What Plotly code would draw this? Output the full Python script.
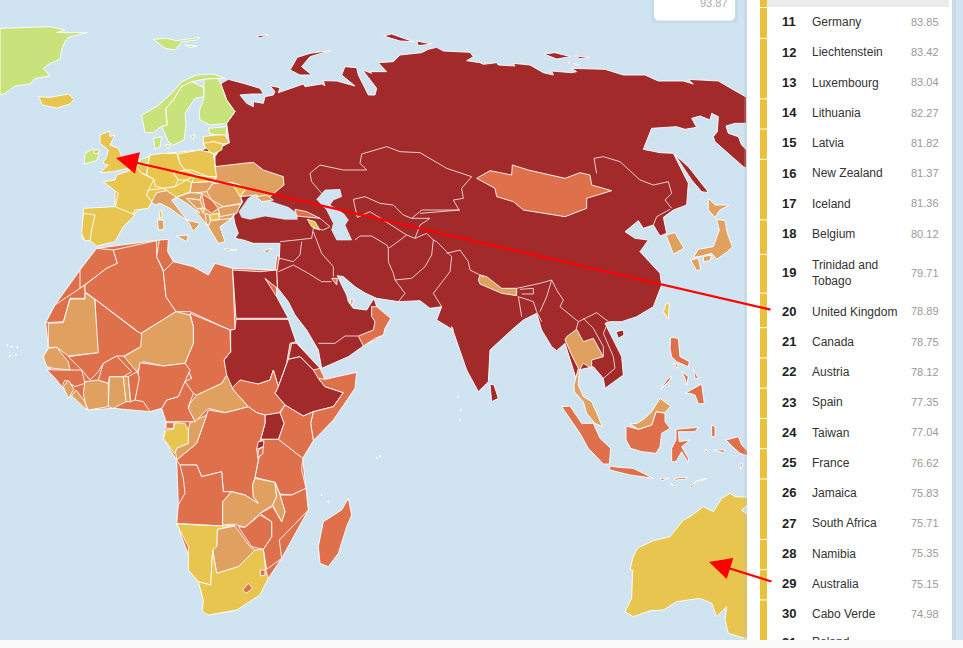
import plotly.graph_objects as go

# Ranking table
ranks = list(range(11, 32))
names = ['Germany', 'Liechtenstein', 'Luxembourg', 'Lithuania', 'Latvia', 'New Zealand', 'Iceland',
         'Belgium', 'Trinidad and<br>Tobago', 'United Kingdom', 'Canada', 'Austria', 'Spain', 'Taiwan',
         'France', 'Jamaica', 'South Africa', 'Namibia', 'Australia', 'Cabo Verde', 'Poland']
scores = ['83.85', '83.42', '83.04', '82.27', '81.82', '81.37', '81.36', '80.12', '79.71', '78.89', '78.75',
          '78.12', '77.35', '77.04', '76.62', '75.83', '75.71', '75.35', '75.15', '74.98', '']
# these ranks have no white gap above them in the yellow strip
strip_joined = [13, 17, 27, 31]

# Score band colours
DARK = '#a32a2a'
ORANGE = '#de704c'
LIGHT = '#e0a060'
YELLOW = '#e8c54e'
GREEN = '#c8e37b'
SEA = '#d0e3f0'

EUROPE = (0, 0)
AFRICA = (0, 230)
MIDEAST = (220, 130)
ASIA = (440, 130)
RU_WEST = (210, 20)
RU_EAST = (480, 20)
INDONESIA = (550, 390)

eurasia_parts = [
    (RU_WEST, [(25, 195), (55, 178), (100, 190), (150, 205), (160, 222), (125, 222), (90, 225), (110, 250),
               (130, 260), (130, 245), (160, 250), (165, 230), (190, 225), (195, 215), (180, 197), (210, 203),
               (205, 218), (280, 192), (285, 200), (335, 192), (345, 197), (340, 182), (380, 183), (435, 198),
               (395, 165), (405, 140), (440, 143), (445, 165), (475, 225), (495, 225), (500, 205), (470, 165),
               (458, 150), (485, 160), (480, 155), (530, 155), (505, 128), (550, 125), (570, 105), (635, 98),
               (655, 88), (680, 82), (700, 93), (780, 97), (790, 110), (770, 122), (810, 128), (820, 133),
               (860, 128)]),
    (RU_EAST, [(55, 135), (105, 138), (100, 130), (150, 135), (190, 158), (220, 165), (215, 153), (275, 158),
               (290, 155), (275, 145), (375, 148), (430, 165), (495, 165), (535, 183), (610, 183), (640, 192),
               (625, 178), (715, 183), (770, 215), (800, 232), (800, 310), (765, 310), (738, 318), (745, 340),
               (775, 350), (785, 375), (800, 390), (800, 445), (790, 440), (705, 365), (700, 350), (712, 335),
               (715, 290), (695, 280), (690, 300), (660, 288), (635, 295), (650, 322), (615, 328), (590, 320),
               (515, 325), (490, 388)]),
    (ASIA, [(660, 68), (700, 70), (745, 160), (740, 225), (700, 240), (670, 262), (680, 310), (660, 318),
            (640, 285), (610, 295), (595, 272), (555, 305), (585, 325), (625, 330), (600, 365), (660, 430),
            (665, 465), (640, 530), (590, 560), (545, 575), (510, 575), (495, 580), (545, 680), (550, 735),
            (495, 775), (490, 745), (460, 710), (415, 720), (408, 745), (375, 640), (350, 662), (335, 650),
            (305, 600), (290, 550), (250, 570), (215, 600), (150, 660), (145, 755), (115, 785), (80, 720),
            (35, 590)]),
    (MIDEAST, [(700, 600), (650, 570), (665, 530), (630, 535), (600, 512), (535, 515), (470, 505), (437, 490),
               (405, 470), (370, 440), (352, 437), (365, 465), (380, 495), (385, 515), (400, 535), (440, 540),
               (462, 505), (470, 530), (512, 565), (495, 595), (490, 615), (430, 648), (385, 680), (305, 715),
               (295, 660), (260, 600), (225, 555), (205, 515), (170, 470), (172, 455), (165, 425), (178, 385),
               (180, 340), (130, 340), (100, 340), (70, 330), (45, 325), (55, 310), (45, 282), (40, 255)]),
    (EUROPE, [(700, 650), (728, 605), (695, 540), (645, 495), (645, 470), (665, 440), (688, 428), (680, 370),
              (705, 335), (680, 300), (660, 245)]),
]

black_sea = [(57, 245), (85, 205), (115, 185), (140, 210), (175, 222), (205, 232), (230, 250), (232, 268),
             (195, 268), (135, 258), (90, 268), (65, 262)]
caspian = [(290, 208), (315, 180), (360, 178), (365, 200), (340, 210), (330, 225), (372, 252), (385, 270),
           (375, 285), (395, 330), (350, 330), (335, 300), (340, 280), (320, 240)]

# Land drawn under the countries, so that no sea shows through between two of them
africa_base = [(290, 55), (478, 30), (520, 95), (625, 135), (698, 115), (830, 120), (830, 200), (860, 265), (888, 335),
               (960, 415), (975, 448), (1070, 427), (1000, 570), (940, 632), (908, 685), (925, 840), (845, 985),
               (805, 1045), (710, 1140), (625, 1155), (595, 1055), (530, 880), (535, 825), (530, 690), (490, 625),
               (498, 578), (485, 535), (450, 545), (340, 535), (265, 540), (185, 470), (130, 380), (145, 352),
               (137, 278), (165, 225), (240, 120)]
europe_base = [(345, 540), (405, 497), (450, 465), (600, 450), (650, 530), (640, 550), (570, 578), (530, 592),
               (455, 605), (395, 645), (345, 625)]
balkan_base = [(570, 548), (640, 545), (725, 610), (690, 660), (625, 680), (560, 600), (530, 592)]

countries = [
    # Arctic and north Atlantic
    (EUROPE, GREEN, [(0, 85), (100, 82), (150, 80), (195, 90), (170, 98), (262, 98), (205, 112), (195, 125), (185, 150),
                     (180, 178), (150, 190), (130, 205), (150, 228), (105, 235), (90, 252), (45, 258), (15, 280), (0, 285)]),
    (EUROPE, YELLOW, [(115, 290), (150, 292), (205, 282), (222, 298), (210, 312), (170, 324), (128, 315)]),
    (EUROPE, GREEN, [(460, 118), (500, 115), (530, 122), (600, 112), (590, 120), (545, 125), (525, 150), (495, 145)]),
    (EUROPE, GREEN, [(555, 135), (590, 138), (570, 143)]),
    (RU_WEST, DARK, [(360, 92), (300, 100), (262, 112), (240, 150), (270, 165), (305, 165), (275, 140), (300, 110)]),
    (RU_WEST, DARK, [(520, 48), (545, 42), (610, 65), (570, 63)]),
    (RU_WEST, DARK, [(620, 63), (665, 72), (625, 77)]),
    (RU_WEST, DARK, [(140, 48), (175, 44), (150, 54)]),
    (RU_EAST, DARK, [(192, 102), (225, 98), (272, 110), (230, 117)]),
    (RU_EAST, DARK, [(285, 108), (328, 112), (300, 116)]),
    (RU_EAST, DARK, [(265, 128), (298, 134), (275, 134)]),
    # Scandinavia and Baltics
    (EUROPE, GREEN, [(425, 345), (470, 320), (510, 285), (545, 245), (590, 225), (640, 222), (675, 235), (612, 238),
                     (575, 245), (610, 262), (545, 260), (520, 300), (498, 325), (498, 350), (502, 375), (482, 380),
                     (460, 398), (435, 398)]),
    (EUROPE, GREEN, [(545, 260), (575, 245), (610, 262), (612, 290), (585, 295), (555, 340), (558, 375), (552, 420),
                     (520, 435), (505, 425), (485, 380), (502, 375), (498, 325), (520, 300)]),
    (EUROPE, GREEN, [(612, 238), (650, 235), (660, 245), (680, 300), (705, 335), (680, 370), (630, 375), (600, 360),
                     (597, 335), (612, 295), (612, 262)]),
    (EUROPE, GREEN, [(625, 385), (680, 380), (678, 408), (650, 405), (630, 402)]),
    (EUROPE, YELLOW, [(610, 410), (648, 405), (675, 405), (688, 428), (668, 432), (640, 425), (610, 432)]),
    (EUROPE, YELLOW, [(610, 430), (640, 425), (668, 432), (665, 450), (640, 462), (620, 450)]),
    (EUROPE, DARK, [(597, 452), (620, 445), (630, 455), (600, 456)]),
    (EUROPE, GREEN, [(460, 415), (485, 410), (480, 440), (465, 448)]),
    (EUROPE, GREEN, [(495, 432), (510, 435), (505, 448)]),
    (EUROPE, GREEN, [(570, 410), (585, 402), (580, 418)]),
    # Western Europe
    (EUROPE, GREEN, [(255, 460), (278, 447), (298, 462), (290, 482), (252, 493)]),
    (EUROPE, YELLOW, [(282, 450), (298, 450), (295, 460), (282, 460)]),
    (EUROPE, YELLOW, [(300, 405), (328, 393), (330, 410), (345, 405), (330, 435), (355, 445), (370, 480), (385, 505),
                      (340, 515), (300, 518), (325, 495), (308, 490), (320, 470), (325, 450), (300, 430)]),
    (EUROPE, GREEN, [(420, 478), (450, 470), (448, 490), (418, 495)]),
    (EUROPE, YELLOW, [(405, 497), (445, 490), (440, 525), (425, 520)]),
    (EUROPE, YELLOW, [(310, 545), (345, 540), (350, 525), (395, 510), (405, 497), (425, 520), (462, 538), (445, 570),
                      (440, 585), (455, 605), (445, 625), (405, 630), (395, 645), (345, 625), (355, 580), (335, 565)]),
    (EUROPE, YELLOW, [(250, 625), (345, 620), (405, 645), (370, 680), (345, 725), (290, 738), (270, 722), (245, 715), (250, 680)]),
    (EUROPE, YELLOW, [(250, 640), (285, 645), (275, 690), (270, 722), (255, 722), (245, 700)]),
    (EUROPE, YELLOW, [(450, 465), (490, 460), (530, 460), (540, 490), (555, 510), (520, 520), (535, 540), (525, 560),
                      (490, 565), (465, 558), (462, 538), (440, 525), (445, 490)]),
    (EUROPE, YELLOW, [(533, 462), (600, 450), (640, 460), (650, 530), (625, 530), (575, 510), (555, 510), (540, 490)]),
    (EUROPE, YELLOW, [(520, 520), (555, 510), (590, 525), (560, 540), (535, 540)]),
    (EUROPE, YELLOW, [(585, 525), (625, 530), (650, 530), (630, 545), (575, 548)]),
    (EUROPE, YELLOW, [(445, 570), (490, 565), (500, 572), (470, 585), (455, 605), (440, 585)]),
    (EUROPE, YELLOW, [(490, 565), (525, 560), (560, 540), (575, 548), (570, 575), (530, 592), (500, 572)]),
    (EUROPE, LIGHT, [(455, 605), (470, 578), (500, 572), (530, 592), (515, 600), (560, 660), (600, 670), (580, 695),
                     (565, 665), (510, 625), (480, 610), (465, 615)]),
    (EUROPE, LIGHT, [(530, 708), (565, 705), (560, 725)]),
    (EUROPE, LIGHT, [(472, 660), (490, 660), (492, 688), (475, 690)]),
    (EUROPE, YELLOW, [(478, 635), (485, 630), (487, 650), (478, 655)]),
    # Balkans and Ukraine
    (EUROPE, LIGHT, [(645, 500), (650, 530), (640, 550), (695, 548), (720, 555), (735, 572), (720, 590), (770, 585),
                     (790, 605), (810, 590), (852, 555), (850, 530), (790, 510), (760, 487), (730, 490)]),
    (EUROPE, LIGHT, [(575, 548), (630, 545), (640, 550), (620, 575), (570, 580)]),
    (EUROPE, LIGHT, [(640, 550), (695, 548), (720, 570), (725, 610), (670, 620), (635, 600), (620, 575)]),
    (EUROPE, YELLOW, [(695, 548), (720, 555), (735, 570), (720, 590)]),
    (EUROPE, LIGHT, [(530, 592), (570, 578), (605, 580), (600, 600), (560, 595), (590, 625), (600, 640), (560, 610)]),
    (EUROPE, LIGHT, [(560, 595), (600, 600), (610, 625), (590, 625)]),
    (EUROPE, ORANGE, [(605, 580), (635, 600), (655, 625), (635, 640), (615, 625)]),
    (EUROPE, YELLOW, [(600, 625), (615, 625), (610, 640)]),
    (EUROPE, LIGHT, [(655, 625), (670, 620), (722, 612), (710, 640), (660, 650)]),
    (EUROPE, YELLOW, [(628, 645), (655, 640), (658, 658), (632, 662)]),
    (EUROPE, LIGHT, [(615, 640), (628, 645), (632, 670), (620, 675)]),
    (EUROPE, LIGHT, [(632, 662), (695, 655), (660, 680), (675, 725), (655, 730), (625, 680)]),
    (EUROPE, LIGHT, [(672, 745), (710, 750), (680, 752)]),
    (EUROPE, LIGHT, [(790, 752), (815, 745), (800, 760)]),
    (MIDEAST, LIGHT, [(110, 200), (140, 195), (160, 210), (125, 215)]),
    # Caucasus and Gulf states
    (MIDEAST, ORANGE, [(225, 238), (260, 245), (300, 265), (270, 262), (230, 258)]),
    (MIDEAST, YELLOW, [(262, 268), (285, 275), (300, 300), (275, 290)]),
    (MIDEAST, ORANGE, [(170, 378), (178, 378), (172, 420), (165, 420)]),
    (MIDEAST, ORANGE, [(335, 445), (352, 445), (350, 465)]),
    (MIDEAST, LIGHT, [(392, 507), (400, 507), (398, 525), (392, 523)]),
    (MIDEAST, ORANGE, [(455, 530), (470, 530), (512, 565), (495, 595), (490, 615), (465, 625), (430, 648), (415, 618),
                       (460, 600), (465, 575), (455, 560)]),
    # Asia
    (ASIA, ORANGE, [(110, 145), (150, 122), (215, 135), (217, 105), (265, 120), (300, 128), (375, 145), (420, 128),
                    (450, 135), (455, 165), (515, 182), (440, 205), (440, 235), (375, 260), (290, 245), (250, 240),
                    (220, 215), (170, 200), (165, 175)]),
    (ASIA, LIGHT, [(120, 435), (140, 440), (185, 475), (230, 475), (230, 497), (185, 490), (120, 462), (115, 450)]),
    (ASIA, DARK, [(150, 762), (162, 765), (175, 805), (155, 815)]),
    (ASIA, DARK, [(528, 605), (550, 600), (552, 615), (535, 625)]),
    (ASIA, DARK, [(705, 75), (745, 110), (800, 180), (805, 188), (785, 185), (755, 150)]),
    (ASIA, YELLOW, [(680, 518), (688, 520), (685, 568), (670, 545)]),
    (ASIA, LIGHT, [(678, 315), (705, 308), (732, 355), (700, 372)]),
    (ASIA, LIGHT, [(805, 205), (825, 225), (868, 225), (840, 240), (825, 262), (805, 240)]),
    (ASIA, LIGHT, [(830, 268), (855, 272), (862, 310), (877, 350), (862, 365), (830, 388), (815, 370), (785, 378),
                   (760, 382), (775, 358), (820, 350), (838, 300)]),
    (ASIA, LIGHT, [(790, 380), (815, 375), (810, 392), (790, 395)]),
    (ASIA, LIGHT, [(752, 390), (775, 385), (782, 418), (770, 422)]),
    (ASIA, LIGHT, [(380, 620), (410, 598), (430, 635), (460, 625), (490, 680), (455, 690), (455, 715), (430, 700),
                   (418, 720), (415, 765), (430, 800), (455, 815), (475, 860), (487, 890), (465, 880), (440, 850),
                   (430, 815), (403, 785), (402, 765), (415, 715), (395, 675), (375, 630)]),
    (ASIA, ORANGE, [(692, 622), (715, 625), (720, 680), (748, 695), (745, 710), (710, 695), (695, 680), (690, 655)]),
    (ASIA, ORANGE, [(735, 790), (785, 762), (793, 820), (775, 822), (765, 795), (750, 790)]),
    (ASIA, ORANGE, [(725, 725), (745, 740), (740, 765), (735, 745)]),
    (ASIA, ORANGE, [(760, 718), (775, 745), (765, 745)]),
    (ASIA, ORANGE, [(695, 738), (690, 750), (662, 778), (680, 750)]),
    (ASIA, LIGHT, [(700, 700), (715, 705), (712, 715)]),
    # Indonesia and Australia
    (INDONESIA, ORANGE, [(228, 108), (265, 118), (305, 105), (318, 65), (345, 70), (345, 95), (360, 115), (335, 130),
                         (330, 170), (318, 190), (275, 185), (242, 175), (228, 150)]),
    (INDONESIA, LIGHT, [(240, 102), (262, 100), (285, 85), (305, 65), (330, 25), (362, 48), (345, 68), (318, 65),
                        (305, 105), (265, 118)]),
    (INDONESIA, ORANGE, [(35, 50), (60, 48), (85, 85), (95, 100), (130, 100), (150, 145), (182, 175), (178, 222),
                         (160, 222), (115, 175), (90, 130), (60, 85)]),
    (INDONESIA, ORANGE, [(178, 228), (205, 232), (250, 235), (310, 265), (240, 255), (180, 240)]),
    (INDONESIA, ORANGE, [(378, 118), (445, 112), (435, 125), (385, 125), (388, 155), (420, 150), (395, 170), (415, 205),
                         (415, 218), (395, 185), (378, 215), (365, 215), (365, 175), (378, 150)]),
    (INDONESIA, ORANGE, [(330, 265), (355, 265), (335, 272)]),
    (INDONESIA, ORANGE, [(372, 265), (412, 262), (405, 268), (375, 270)]),
    (INDONESIA, ORANGE, [(360, 280), (380, 290), (375, 293)]),
    (INDONESIA, ORANGE, [(420, 290), (438, 275), (425, 293)]),
    (INDONESIA, YELLOW, [(440, 272), (472, 265), (445, 275)]),
    (INDONESIA, ORANGE, [(485, 105), (495, 110), (495, 140), (485, 140)]),
    (INDONESIA, ORANGE, [(528, 150), (565, 140), (575, 165), (600, 190), (600, 200), (570, 190), (550, 172)]),
    (INDONESIA, ORANGE, [(462, 182), (475, 182), (470, 188)]),
    (INDONESIA, ORANGE, [(490, 180), (525, 180), (520, 188)]),
    (INDONESIA, ORANGE, [(570, 222), (578, 222), (572, 238)]),
    (INDONESIA, YELLOW, [(225, 665), (245, 625), (248, 540), (240, 540), (248, 505), (262, 475), (310, 452), (360, 440),
                         (400, 390), (420, 380), (460, 350), (490, 365), (515, 325), (540, 310), (555, 320), (600, 322),
                         (600, 340), (575, 360), (600, 380), (600, 750), (535, 730), (525, 690), (530, 650), (500, 680),
                         (485, 640), (450, 625), (380, 635), (340, 660), (300, 662), (250, 680)]),
    # North Africa
    (AFRICA, ORANGE, [(290, 55), (340, 60), (352, 100), (320, 115), (280, 145), (255, 165), (240, 175), (240, 120)]),
    (AFRICA, ORANGE, [(240, 175), (255, 165), (255, 205), (210, 205), (190, 275), (137, 278), (165, 225)]),
    (AFRICA, ORANGE, [(340, 60), (470, 32), (470, 80), (490, 125), (498, 200), (528, 245), (420, 312), (408, 300),
                      (255, 185), (255, 165), (320, 115), (352, 100)]),
    (AFRICA, ORANGE, [(478, 30), (505, 28), (503, 65), (520, 95), (495, 130), (470, 80)]),
    (AFRICA, ORANGE, [(520, 95), (580, 110), (625, 135), (645, 100), (698, 115), (705, 298), (690, 300), (570, 245),
                      (528, 245), (498, 200), (490, 125)]),
    (AFRICA, DARK, [(698, 120), (780, 125), (830, 120), (832, 175), (795, 145), (830, 200), (865, 265), (708, 265)]),
    (AFRICA, DARK, [(708, 268), (865, 268), (888, 335), (870, 340), (860, 400), (835, 470), (820, 420), (810, 450),
                    (775, 462), (745, 462), (720, 450), (695, 475), (675, 435), (672, 390), (692, 365), (692, 300), (705, 298)]),
    (AFRICA, DARK, [(875, 340), (890, 340), (960, 415), (940, 420), (900, 380), (865, 388)]),
    (AFRICA, DARK, [(865, 388), (900, 380), (940, 420), (955, 445), (975, 470), (1030, 488), (1000, 530), (940, 545),
                    (910, 558), (855, 525), (825, 490), (835, 470)]),
    (AFRICA, ORANGE, [(975, 448), (1070, 427), (1065, 475), (1000, 570), (940, 632), (932, 580), (940, 545), (1000, 530),
                      (1030, 488), (975, 470), (955, 445)]),
    # East and central Africa
    (AFRICA, ORANGE, [(695, 475), (720, 450), (775, 462), (810, 450), (820, 420), (835, 470), (825, 490), (855, 525),
                      (835, 552), (795, 555), (770, 548), (745, 530), (700, 480)]),
    (AFRICA, ORANGE, [(855, 525), (910, 558), (940, 545), (932, 580), (940, 632), (908, 685), (835, 628), (852, 580), (840, 550)]),
    (AFRICA, DARK, [(795, 555), (840, 548), (852, 580), (835, 628), (782, 628), (795, 580)]),
    (AFRICA, ORANGE, [(782, 628), (835, 628), (908, 685), (905, 720), (918, 775), (875, 795), (840, 792), (825, 757),
                      (765, 742), (775, 690), (790, 650)]),
    (AFRICA, ORANGE, [(625, 540), (675, 548), (745, 530), (770, 548), (795, 555), (795, 580), (782, 628), (770, 658),
                      (775, 690), (765, 742), (758, 765), (760, 800), (775, 820), (735, 795), (695, 785), (670, 785),
                      (665, 725), (605, 740), (590, 705), (540, 705), (530, 690), (590, 640), (618, 560)]),
    (AFRICA, DARK, [(775, 635), (792, 632), (790, 650), (770, 658)]),
    (AFRICA, ORANGE, [(775, 660), (790, 650), (788, 672), (773, 682)]),
    (AFRICA, ORANGE, [(540, 705), (590, 705), (605, 740), (665, 725), (670, 785), (695, 785), (668, 815), (668, 888),
                      (530, 880), (535, 825), (555, 790), (550, 745)]),
    (AFRICA, LIGHT, [(695, 785), (735, 795), (775, 820), (760, 800), (758, 765), (765, 745), (825, 757), (830, 800),
                     (818, 825), (780, 850), (735, 892), (700, 882), (668, 885), (668, 815)]),
    (AFRICA, ORANGE, [(840, 795), (875, 795), (918, 775), (925, 840), (850, 918), (838, 930), (845, 985), (800, 1018),
                      (790, 958), (815, 920), (815, 875), (780, 850), (818, 830), (845, 875), (855, 845)]),
    (AFRICA, LIGHT, [(825, 757), (840, 795), (855, 845), (845, 875), (818, 825), (830, 800)]),
    (AFRICA, ORANGE, [(735, 892), (780, 855), (815, 875), (815, 920), (790, 958), (755, 950), (715, 890)]),
    (AFRICA, LIGHT, [(652, 898), (705, 888), (750, 950), (765, 960), (715, 1010), (650, 1030), (638, 960), (650, 950)]),
    (AFRICA, YELLOW, [(530, 882), (668, 888), (705, 885), (652, 898), (650, 950), (638, 960), (632, 1065), (595, 1055),
                      (565, 1020), (565, 950)]),
    (AFRICA, YELLOW, [(595, 1055), (632, 1065), (638, 960), (650, 1030), (715, 1010), (765, 960), (790, 958), (797, 1020),
                      (805, 1045), (780, 1095), (710, 1140), (625, 1155), (607, 1145), (610, 1110)]),
    (AFRICA, ORANGE, [(780, 1020), (795, 1020), (795, 1035), (782, 1038)]),
    (AFRICA, ORANGE, [(745, 1060), (758, 1075), (738, 1090), (728, 1080)]),
    (AFRICA, ORANGE, [(1045, 805), (1055, 855), (1040, 890), (1015, 970), (985, 1010), (960, 1000), (955, 950), (970, 875), (1025, 840)]),
    # Gulf of Guinea
    (AFRICA, LIGHT, [(570, 578), (620, 555), (590, 640), (530, 690), (525, 655), (565, 640), (565, 600)]),
    (AFRICA, YELLOW, [(498, 600), (520, 598), (525, 578), (555, 580), (565, 600), (565, 640), (530, 655), (525, 672), (490, 625)]),
    (AFRICA, ORANGE, [(498, 578), (522, 578), (520, 595), (498, 595)]),
    (AFRICA, ORANGE, [(555, 445), (570, 420), (580, 490), (565, 530), (585, 575), (498, 575), (485, 535), (500, 510), (535, 500)]),
    (AFRICA, LIGHT, [(570, 520), (590, 495), (665, 460), (680, 435), (700, 480), (745, 530), (675, 548), (625, 535), (600, 560), (585, 575), (565, 535)]),
    (AFRICA, ORANGE, [(570, 250), (690, 300), (692, 365), (672, 390), (680, 435), (665, 460), (590, 495), (580, 490),
                      (555, 455), (575, 445), (555, 400), (580, 340), (580, 290)]),
    (AFRICA, LIGHT, [(420, 312), (528, 245), (570, 255), (580, 290), (580, 340), (555, 400), (490, 408), (430, 395), (410, 425), (372, 380), (422, 350)]),
    (AFRICA, ORANGE, [(420, 398), (490, 408), (555, 400), (570, 420), (535, 500), (500, 510), (485, 535), (450, 545), (430, 515), (405, 510), (412, 445)]),
    # West Africa
    (AFRICA, ORANGE, [(285, 208), (408, 302), (425, 312), (422, 350), (372, 378), (350, 378), (310, 400), (295, 425), (270, 450), (245, 420), (205, 380), (292, 368)]),
    (AFRICA, LIGHT, [(255, 188), (283, 207), (285, 220), (295, 368), (205, 378), (170, 352), (145, 352), (145, 280), (190, 278), (210, 207), (255, 207)]),
    (AFRICA, ORANGE, [(165, 420), (210, 420), (245, 420), (255, 460), (225, 470), (195, 450), (185, 470), (170, 450), (140, 418)]),
    (AFRICA, LIGHT, [(130, 380), (145, 355), (170, 352), (205, 395), (210, 420), (160, 415), (140, 410)]),
    (AFRICA, LIGHT, [(190, 470), (205, 450), (222, 478), (205, 505)]),
    (AFRICA, LIGHT, [(215, 497), (228, 480), (255, 515), (260, 540)]),
    (AFRICA, LIGHT, [(255, 455), (295, 450), (325, 460), (325, 530), (265, 540), (255, 515), (250, 490)]),
    (AFRICA, LIGHT, [(328, 440), (370, 440), (378, 515), (340, 535), (325, 530)]),
    (AFRICA, ORANGE, [(295, 450), (310, 400), (350, 378), (395, 425), (370, 440), (328, 440), (325, 460)]),
    (AFRICA, LIGHT, [(370, 440), (385, 440), (392, 515), (378, 515)]),
    (AFRICA, ORANGE, [(385, 440), (412, 425), (418, 445), (405, 510), (392, 515)]),
]

# Borders inside the dark Eurasian landmass
borders = [
    (MIDEAST, [(305, 190), (275, 155), (270, 130), (300, 105), (370, 120), (440, 120), (420, 100), (425, 72), (500, 50),
               (540, 65), (600, 68), (680, 115), (755, 140), (725, 175), (730, 205), (700, 210), (717, 240), (605, 240),
               (575, 265), (550, 255), (520, 225), (480, 220), (435, 200), (400, 208), (412, 262)]),
    (MIDEAST, [(412, 262), (450, 245), (490, 270), (560, 315), (585, 325), (620, 310), (640, 330), (635, 375), (615, 410),
               (575, 445), (525, 450), (520, 430), (505, 395), (505, 355), (520, 345), (560, 315)]),
    (MIDEAST, [(505, 355), (500, 345), (455, 318), (420, 318), (405, 330)]),
    (MIDEAST, [(525, 450), (555, 490), (535, 515)]),
    (MIDEAST, [(575, 265), (630, 265), (600, 285), (585, 325)]),
    (MIDEAST, [(600, 250), (720, 240)]),
    (MIDEAST, [(640, 330), (650, 335), (695, 380), (690, 425), (640, 490), (665, 530)]),
    (MIDEAST, [(680, 370), (720, 360), (745, 395), (750, 420), (790, 440)]),
    (MIDEAST, [(180, 335), (240, 330), (275, 325), (280, 295), (310, 300)]),
    (MIDEAST, [(280, 305), (305, 370), (340, 410), (340, 440)]),
    (MIDEAST, [(245, 335), (240, 375), (220, 395), (180, 385)]),
    (MIDEAST, [(175, 425), (210, 410), (220, 405), (265, 430), (305, 455), (335, 455)]),
    (MIDEAST, [(295, 640), (345, 640), (375, 618), (415, 618)]),
    (MIDEAST, [(300, 265), (330, 290), (310, 300)]),
    (ASIA, [(470, 130), (462, 85), (490, 80), (540, 95), (600, 150), (640, 165), (685, 155), (695, 190), (675, 210), (695, 235)]),
    (ASIA, [(640, 285), (650, 260), (690, 238)]),
    (ASIA, [(230, 475), (300, 460), (335, 450), (350, 480), (370, 510), (360, 530), (415, 575), (470, 548), (505, 575),
            (490, 610), (520, 680), (525, 715), (490, 745)]),
    (ASIA, [(430, 565), (460, 595), (490, 650), (490, 680)]),
    (ASIA, [(455, 715), (490, 745)]),
    (ASIA, [(235, 500), (280, 515), (290, 545), (305, 575)]),
    (ASIA, [(235, 500), (245, 560)]),
    (ASIA, [(240, 478), (280, 475), (280, 492), (245, 492)]),
    (ASIA, [(335, 450), (320, 500), (300, 545)]),
    (ASIA, [(415, 575), (408, 600)]),
]

# Small atolls that show as white specks
specks = [
    (MIDEAST, [(715, 800), (722, 840), (720, 870)]),
    (AFRICA, [(22, 345), (35, 350), (52, 352)]),
    (AFRICA, [(30, 378), (48, 375)]),
    (AFRICA, [(965, 795), (985, 815)]),
    (AFRICA, [(1130, 685), (1140, 678)]),
]


def crop_to_map(origin, points):
    ox, oy = origin
    xs = [ox + p[0] / 3 for p in points]
    ys = [oy + p[1] / 3 for p in points]
    return xs, ys


def add_shape(fig, xs, ys, fill, line='#ffffff', width=0.9):
    fig.add_trace(go.Scatter(x=xs + xs[:1], y=ys + ys[:1], mode='lines', fill='toself', fillcolor=fill,
                             line=dict(color=line, width=width), hoverinfo='skip'))


def add_box(fig, x0, x1, y0, y1, fill):
    add_shape(fig, [x0, x1, x1, x0], [y0, y0, y1, y1], fill, line=fill, width=0)


fig = go.Figure()

# Landmass first, seas cut out on top, then the countries
land_x, land_y = [], []
for origin, points in eurasia_parts:
    xs, ys = crop_to_map(origin, points)
    land_x += xs
    land_y += ys
add_shape(fig, land_x, land_y, DARK)

for outline in [black_sea, caspian]:
    xs, ys = crop_to_map(MIDEAST, outline)
    add_shape(fig, xs, ys, SEA, line='#eef4f8', width=0.6)

xs, ys = crop_to_map(AFRICA, africa_base)
add_shape(fig, xs, ys, ORANGE)
xs, ys = crop_to_map(EUROPE, europe_base)
add_shape(fig, xs, ys, YELLOW)
xs, ys = crop_to_map(EUROPE, balkan_base)
add_shape(fig, xs, ys, LIGHT)

for origin, color, points in countries:
    xs, ys = crop_to_map(origin, points)
    add_shape(fig, xs, ys, color)

for origin, points in borders:
    xs, ys = crop_to_map(origin, points)
    fig.add_trace(go.Scatter(x=xs, y=ys, mode='lines', line=dict(color='#f3dede', width=0.9), hoverinfo='skip'))

for origin, points in specks:
    xs, ys = crop_to_map(origin, points)
    fig.add_trace(go.Scatter(x=xs, y=ys, mode='markers', marker=dict(color='#ffffff', size=2), hoverinfo='skip'))

# Row centres follow from the row heights, two line rows are taller
row_y = []
y = 23.2
for i, name in enumerate(names):
    if i > 0:
        y += 38.8 if '<br>' in name or '<br>' in names[i - 1] else 30.25
    row_y.append(y)
# the last row is cut by the bottom of the page, only its top shows
row_y[-1] -= 2

# Side panel
add_box(fig, 744, 956, 0, 640, 'rgba(170,190,205,0.25)')
add_box(fig, 747, 952, 0, 640, '#ffffff')
add_box(fig, 767, 949, 0, 7, '#ecebe9')
add_box(fig, 760, 767, 0, 7, '#e9c13b')
add_box(fig, 651, 738, 0, 23, 'rgba(170,190,205,0.25)')
fig.add_trace(go.Scatter(x=[654, 735, 735, 732, 657, 654, 654], y=[0, 0, 17, 20.5, 20.5, 17, 0], mode='lines', fill='toself',
                         fillcolor='#ffffff', line=dict(color='#ffffff', width=0), hoverinfo='skip'))

# Yellow strip, one block per group of rows
edges = [7.5]
for i, rank in enumerate(ranks[:-1]):
    if rank + 1 not in strip_joined:
        edges.append((row_y[i] + row_y[i + 1]) / 2)
edges.append(640.5)
for top, bottom in zip(edges[:-1], edges[1:]):
    add_box(fig, 760, 767, top + 0.5, bottom - 0.5, '#e9c13b')

fig.add_trace(go.Scatter(x=[782] * len(ranks), y=row_y, mode='text', text=[f'<b>{r}</b>' for r in ranks],
                         textposition='middle right', textfont=dict(family='Liberation Sans', size=13, color='#222222'),
                         hoverinfo='skip'))
fig.add_trace(go.Scatter(x=[812] * len(names), y=row_y, mode='text', text=names, textposition='middle right',
                         textfont=dict(family='Liberation Sans', size=12, color='#333333'), hoverinfo='skip'))
fig.add_trace(go.Scatter(x=[911] * len(scores), y=row_y, mode='text', text=scores, textposition='middle right',
                         textfont=dict(family='Liberation Sans', size=11, color='#999999'), hoverinfo='skip'))
fig.add_trace(go.Scatter(x=[700], y=[4], mode='text', text=['93.87'], textposition='middle right',
                         textfont=dict(family='Liberation Sans', size=11, color='#aaaaaa'), hoverinfo='skip'))

fig.update_layout(
    width=963, height=648, margin=dict(l=0, r=0, t=0, b=8),
    paper_bgcolor='#fafafa', plot_bgcolor=SEA, showlegend=False,
    xaxis=dict(range=[0, 963], visible=False, fixedrange=True),
    yaxis=dict(range=[640, 0], visible=False, fixedrange=True),
    annotations=[
        dict(x=116, y=158, ax=772, ay=310, xref='x', yref='y', axref='x', ayref='y', text='', showarrow=True,
             arrowhead=2, arrowsize=2, arrowwidth=2.2, arrowcolor='#ff0000', standoff=0),
        dict(x=709, y=562, ax=773, ay=582, xref='x', yref='y', axref='x', ayref='y', text='', showarrow=True,
             arrowhead=2, arrowsize=2, arrowwidth=2.2, arrowcolor='#ff0000', standoff=0),
    ],
)

fig.write_html('out.html', config={'displayModeBar': False}, post_script="document.body.style.margin='0';")
